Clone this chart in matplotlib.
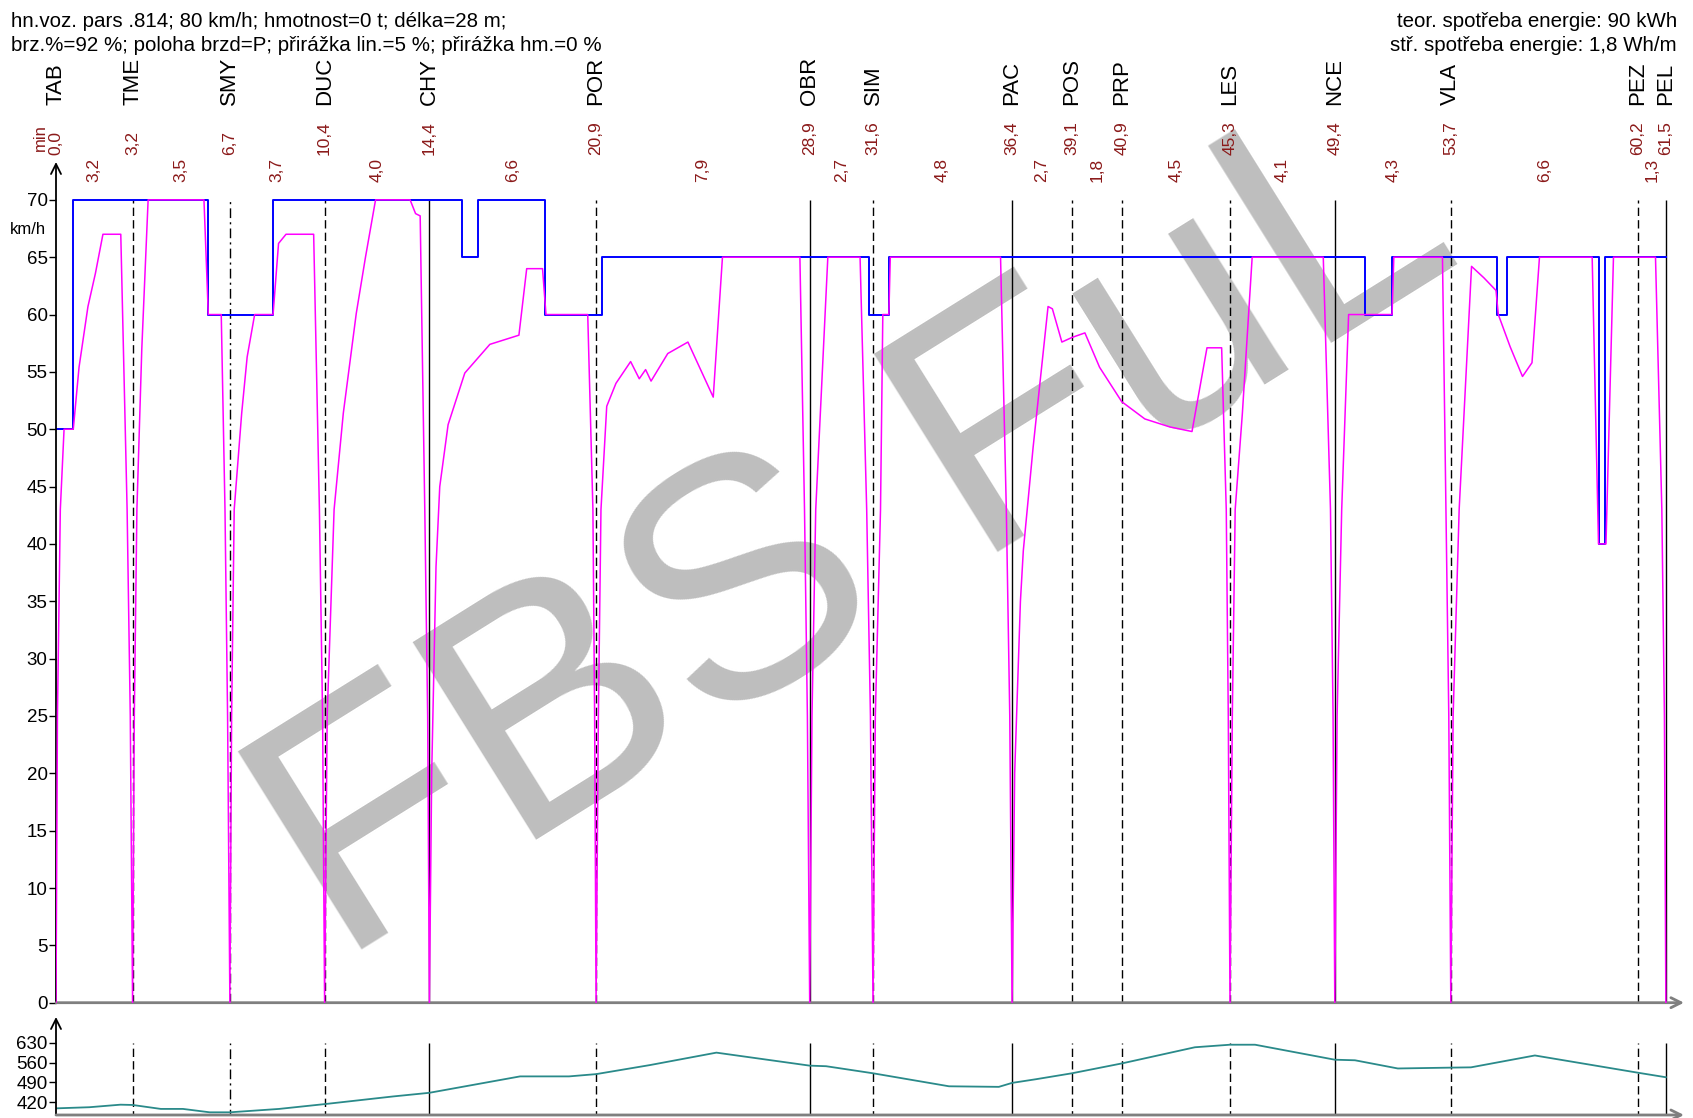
import matplotlib
matplotlib.use('Agg')
import matplotlib.pyplot as plt

plt.rcParams['font.family'] = ['Liberation Sans', 'DejaVu Sans']

# --- DATA ---
stations = ['TAB', 'TME', 'SMY', 'DUC', 'CHY', 'POR', 'OBR', 'SIM', 'PAC',
            'POS', 'PRP', 'LES', 'NCE', 'VLA', 'PEZ', 'PEL']
station_km = [0.0, 2.66, 6.04, 9.33, 12.97, 18.76, 26.18, 28.38, 33.21,
              35.29, 37.03, 40.78, 44.42, 48.45, 54.95, 55.92]
station_line = ['axis', 'dash', 'dashdot', 'dash', 'solid', 'dash', 'solid', 'dash', 'solid',
                'dash', 'dash', 'dash', 'solid', 'dash', 'dash', 'solid']
arrival_min = ['0,0', '3,2', '6,7', '10,4', '14,4', '20,9', '28,9', '31,6', '36,4',
               '39,1', '40,9', '45,3', '49,4', '53,7', '60,2', '61,5']
run_min = ['3,2', '3,5', '3,7', '4,0', '6,6', '7,9', '2,7', '4,8',
           '2,7', '1,8', '4,5', '4,1', '4,3', '6,6', '1,3']

# rychlostni omezeni (schody)
limit_km = [0, 0.60, 5.29, 7.54, 14.10, 14.67, 16.98, 18.98, 28.25, 28.93,
            45.46, 46.41, 50.06, 50.39, 53.60, 53.82, 55.92]
limit_v = [50, 70, 60, 70, 65, 70, 60, 65, 60, 65, 60, 65, 60, 65, 40, 65, 65]

# jizdni prubeh
speed_km = [0, 0.05, 0.15, 0.28, 0.60, 0.80, 1.11, 1.37, 1.63, 2.25, 2.47, 2.58, 2.66,
            2.72, 2.81, 2.98, 3.20, 5.14, 5.29, 5.74, 5.87, 5.96, 6.04,
            6.10, 6.19, 6.45, 6.64, 6.90, 7.54, 7.73, 7.99, 8.95, 9.15, 9.26, 9.33,
            9.42, 9.66, 9.98, 10.43, 10.75, 11.10, 12.30, 12.49, 12.65, 12.81, 12.91, 12.97,
            13.05, 13.20, 13.33, 13.62, 14.20, 15.07, 16.08, 16.35, 16.90, 17.02, 18.47,
            18.65, 18.71, 18.76,
            18.84, 18.93, 19.13, 19.45, 19.96, 20.26, 20.48, 20.67, 21.25, 21.95, 22.83,
            23.15, 25.84, 26.00, 26.10, 26.18,
            26.26, 26.39, 26.81, 27.93, 28.16, 28.29, 28.38,
            28.46, 28.64, 28.72, 28.93, 28.98, 32.81, 33.01, 33.13, 33.21,
            33.30, 33.50, 33.60, 33.94, 34.46, 34.61, 34.94, 35.29, 35.74, 36.25, 37.02,
            37.82, 38.69, 39.46, 39.98, 40.49, 40.65, 40.72, 40.78,
            40.86, 40.96, 41.21, 41.55, 44.02, 44.27, 44.36, 44.42,
            44.50, 44.66, 44.90, 46.41, 46.47, 48.16, 48.28, 48.38, 48.45,
            48.53, 48.74, 49.17, 49.60, 50.02, 50.10, 50.51, 50.94, 51.27, 51.53,
            53.36, 53.58, 53.84, 54.10, 55.56, 55.78, 55.87, 55.92]
speed_v = [0, 25, 43, 50, 50, 55.4, 60.7, 63.6, 67.0, 67.0, 43, 25, 0,
           25, 43, 57, 70, 70, 60, 60, 43, 25, 0,
           25, 43, 51.4, 56.3, 60, 60, 66.2, 67, 67, 43, 25, 0,
           25, 43, 51.4, 60.1, 65, 70, 70, 68.8, 68.6, 43, 25, 0,
           20, 38, 45, 50.4, 54.9, 57.4, 58.2, 64, 64, 60, 60,
           43, 25, 0,
           25, 43, 52.0, 54.0, 55.9, 54.4, 55.2, 54.2, 56.6, 57.6, 52.8,
           65, 65, 43, 25, 0,
           25, 43, 65, 65, 43, 25, 0,
           25, 43, 60, 60, 65, 65, 43, 25, 0,
           20, 35, 39.4, 48.4, 60.7, 60.5, 57.6, 58.0, 58.4, 55.4, 52.4,
           50.9, 50.2, 49.8, 57.1, 57.1, 43, 25, 0,
           25, 43, 51.4, 65, 65, 43, 25, 0,
           25, 43, 60, 60, 65, 65, 43, 25, 0,
           25, 43, 64.2, 63.2, 62.1, 60, 57.2, 54.6, 55.8, 65,
           65, 40, 40, 65, 65, 43, 25, 0]

# vyskovy profil
elev_km = [0, 1.16, 2.24, 2.66, 3.64, 4.41, 5.34, 6.04, 7.75, 9.33, 11.70, 12.97,
           16.12, 17.82, 18.76, 20.63, 22.94, 26.18, 26.75, 28.38, 31.02, 32.75,
           33.21, 34.04, 35.29, 37.03, 39.56, 40.78, 41.65, 44.42, 45.12, 46.61,
           48.45, 49.15, 51.37, 54.95, 55.92]
elev_m = [398, 402, 411, 410, 396, 396, 384, 384, 396, 413, 440, 453,
          511, 511, 519, 551, 595, 549, 547, 522, 476, 474,
          488, 501, 522, 557, 614, 623, 623, 570, 568, 539,
          542, 543, 585, 524, 508]

header_left = ['hn.voz. pars .814; 80 km/h; hmotnost=0 t; délka=28 m;',
               'brz.%=92 %; poloha brzd=P; přirážka lin.=5 %; přirážka hm.=0 %']
header_right = ['teor. spotřeba energie: 90 kWh',
                'stř. spotřeba energie: 1,8 Wh/m']

W, H = 1693, 1118
X_MAX = 56.55
V_TOP = 73.3
DARKRED = '#8B1A1A'


def fy(px):
    return 1 - px / H


def yfrac(px):
    # pixel -> axes fraction of the speed axes
    return (1002.7 - px) / 840.7


LS = {'dash': (0, (6, 3)), 'dashdot': (0, (7, 3, 1.5, 3)), 'solid': '-'}

fig = plt.figure(figsize=(W / 100, H / 100), dpi=100, facecolor='white')
ax = fig.add_axes([56 / W, fy(1002.7), 1628 / W, 840.7 / H])
ax2 = fig.add_axes([56 / W, fy(1115), 1628 / W, 98 / H])

for a in (ax, ax2):
    a.patch.set_visible(False)
    for s in a.spines.values():
        s.set_visible(False)
    a.set_xlim(0, X_MAX)
    a.set_xticks([])

# --- rychlostni graf ---
ax.set_ylim(0, V_TOP)
ax.set_yticks(range(0, 71, 5))
ax.tick_params(axis='y', length=5, width=1, labelsize=13.5, pad=1)

for km, st in zip(station_km, station_line):
    if st == 'axis':
        continue
    ax.vlines(km, 0, 70, colors='black', linestyles=LS[st], lw=1, zorder=2)
    ax2.vlines(km, 360, 630, colors='black', linestyles=LS[st], lw=1, zorder=2)

ax.step(limit_km, limit_v, where='post', color='#0000FF', lw=1.4, zorder=3)
ax.plot(speed_km, speed_v, color='#FF00FF', lw=1.1, zorder=4)

ax.annotate('', xy=(0, V_TOP), xytext=(0, 0), annotation_clip=False,
            arrowprops=dict(arrowstyle='->', color='black', lw=1.3,
                            shrinkA=0, shrinkB=0, mutation_scale=18))
ax.annotate('', xy=(X_MAX, 0), xytext=(0, 0), annotation_clip=False,
            arrowprops=dict(arrowstyle='->', color='#7F7F7F', lw=2,
                            shrinkA=0, shrinkB=0, mutation_scale=18))

tr = ax.get_xaxis_transform()
for name, km, t in zip(stations, station_km, arrival_min):
    ax.text(km, yfrac(105), name, rotation=90, ha='center', va='bottom',
            fontsize=16, transform=tr, clip_on=False)
    ax.text(km, yfrac(155), t, rotation=90, ha='center', va='bottom',
            fontsize=12.5, color=DARKRED, transform=tr, clip_on=False)
for i, t in enumerate(run_min):
    mid = (station_km[i] + station_km[i + 1]) / 2
    ax.text(mid, yfrac(182), t, rotation=90, ha='center', va='bottom',
            fontsize=12.5, color=DARKRED, transform=tr, clip_on=False)

fig.text(40 / W, fy(151), 'min', rotation=90, ha='center', va='bottom',
         fontsize=12, color=DARKRED)
fig.text(28 / W, fy(230), 'km/h', ha='center', va='center', fontsize=12)

# --- vyskovy profil ---
ax2.set_ylim(374.5, 721)
ax2.set_yticks([420, 490, 560, 630])
ax2.tick_params(axis='y', length=5, width=1, labelsize=13.5, pad=1)
ax2.plot(elev_km, elev_m, color='#2A8A8A', lw=1.3, zorder=3)
ax2.annotate('', xy=(0, 721), xytext=(0, 374.5), annotation_clip=False,
             arrowprops=dict(arrowstyle='->', color='black', lw=1.3,
                             shrinkA=0, shrinkB=0, mutation_scale=18))
ax2.annotate('', xy=(X_MAX, 374.5), xytext=(0, 374.5), annotation_clip=False,
             arrowprops=dict(arrowstyle='->', color='#7F7F7F', lw=2,
                             shrinkA=0, shrinkB=0, mutation_scale=18))

# --- hlavicka ---
fig.text(11 / W, fy(27), header_left[0], fontsize=14.8, va='baseline')
fig.text(11 / W, fy(51), header_left[1], fontsize=14.8, va='baseline')
fig.text(1677 / W, fy(27), header_right[0], fontsize=14.8, va='baseline', ha='right')
fig.text(1677 / W, fy(51), header_right[1], fontsize=14.8, va='baseline', ha='right')

# vodoznak
ax.text(0.506, 0.52, 'FBS FuL', transform=fig.transFigure, rotation=32,
        rotation_mode='anchor', ha='center', va='center', fontsize=243,
        color='#BEBEBE', zorder=0.5, clip_on=False)

fig.savefig('out.png', dpi=100, facecolor='white')
